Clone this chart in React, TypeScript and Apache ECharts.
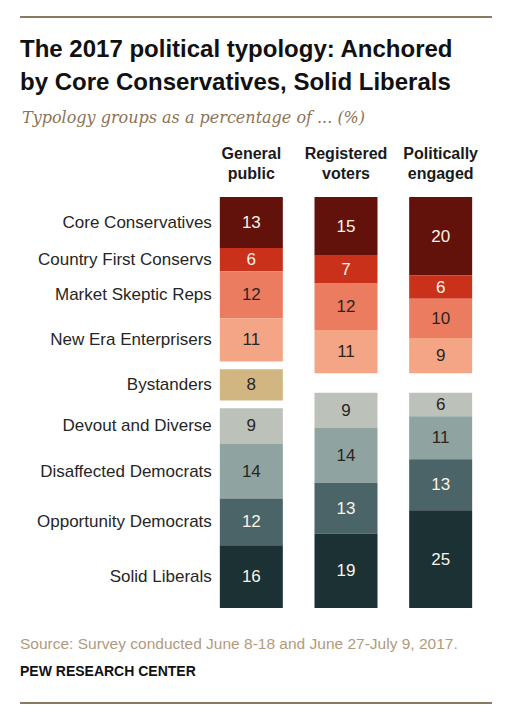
import React, { useEffect, useRef } from "react";
import * as echarts from "echarts";

// Column headers (x axis categories)
const columns = ["General\npublic", "Registered\nvoters", "Politically\nengaged"];

// Typology groups, top to bottom
const groups = [
  "Core Conservatives",
  "Country First Conservs",
  "Market Skeptic Reps",
  "New Era Enterprisers",
  "Bystanders",
  "Devout and Diverse",
  "Disaffected Democrats",
  "Opportunity Democrats",
  "Solid Liberals",
];

// Share of each population (%), per column
const coreConservatives = [13, 15, 20];
const countryFirstConservs = [6, 7, 6];
const marketSkepticReps = [12, 12, 10];
const newEraEnterprisers = [11, 11, 9];
const bystanders = [8, null, null];
const devoutAndDiverse = [9, 9, 6];
const disaffectedDemocrats = [14, 14, 11];
const opportunityDemocrats = [12, 13, 13];
const solidLiberals = [16, 19, 25];

const FONT = "'Liberation Sans', Arial, sans-serif";
const BAR_WIDTH = 63;
const BAND_GAP = 2; // space (in %-units) around the Bystanders block

type Seg = { name: string; data: (number | null)[]; color: string; text: string };

const repSegs: Seg[] = [
  { name: groups[0], data: coreConservatives, color: "#62110b", text: "#fbf3e6" },
  { name: groups[1], data: countryFirstConservs, color: "#c9311b", text: "#fbf3e6" },
  { name: groups[2], data: marketSkepticReps, color: "#eb7c60", text: "#2b2522" },
  { name: groups[3], data: newEraEnterprisers, color: "#f4a586", text: "#2b2522" },
];
const bySeg: Seg = { name: groups[4], data: bystanders, color: "#d2b682", text: "#2b2522" };
const demSegs: Seg[] = [
  { name: groups[5], data: devoutAndDiverse, color: "#bcc1b9", text: "#2b2522" },
  { name: groups[6], data: disaffectedDemocrats, color: "#8fa4a1", text: "#2b2522" },
  { name: groups[7], data: opportunityDemocrats, color: "#4b6467", text: "#fbf3e6" },
  { name: groups[8], data: solidLiberals, color: "#1c3134", text: "#fbf3e6" },
];

const sum = (segs: Seg[], i: number) => segs.reduce((s, g) => s + (g.data[i] ?? 0), 0);

export default function App() {
  const ref = useRef<HTMLDivElement>(null);

  useEffect(() => {
    if (!ref.current) return;
    const chart = echarts.init(ref.current, null, { renderer: "svg" });

    const n = columns.length;
    const fullHeight = (i: number) =>
      sum(repSegs, i) + sum(demSegs, i) + (bySeg.data[i] != null ? (bySeg.data[i] as number) + 2 * BAND_GAP : 0);
    const total = Math.max(...columns.map((_, i) => fullHeight(i)));

    // Spacers keep every column aligned at top and bottom
    const gapTop: (number | null)[] = [];
    const gapBottom: (number | null)[] = [];
    for (let i = 0; i < n; i++) {
      if (bySeg.data[i] != null) {
        gapTop.push(BAND_GAP);
        gapBottom.push(BAND_GAP);
      } else {
        gapTop.push(total - sum(repSegs, i) - sum(demSegs, i));
        gapBottom.push(null);
      }
    }

    const barSeries = (s: Seg) => ({
      type: "bar",
      name: s.name,
      stack: "total",
      barWidth: BAR_WIDTH,
      data: s.data.map((v) => (v == null ? "-" : v)),
      itemStyle: { color: s.color },
      label: {
        show: true,
        position: "inside",
        color: s.text,
        fontFamily: FONT,
        fontSize: 17,
        formatter: (p: any) => String(p.value),
      },
      silent: true,
    });
    const spacer = (name: string, data: (number | null)[]) => ({
      type: "bar",
      name,
      stack: "total",
      barWidth: BAR_WIDTH,
      data: data.map((v) => (v == null ? "-" : v)),
      itemStyle: { color: "rgba(0,0,0,0)" },
      label: { show: false },
      silent: true,
    });

    const ordered: { seg?: Seg; gap?: (number | null)[] }[] = [
      ...repSegs.map((seg) => ({ seg })),
      { gap: gapTop },
      { seg: bySeg },
      { gap: gapBottom },
      ...demSegs.map((seg) => ({ seg })),
    ];

    // Row labels sit at the middle of each segment in the first column
    const labelData: [number, number, string][] = [];
    let acc = 0;
    ordered.forEach((o) => {
      const v = o.seg ? o.seg.data[0] : o.gap![0];
      const val = v ?? 0;
      if (o.seg) labelData.push([0, acc + val / 2, o.seg.name]);
      acc += val;
    });

    const series: any[] = ordered.map((o, k) => (o.seg ? barSeries(o.seg) : spacer("gap" + k, o.gap!)));
    series.push({
      type: "custom",
      coordinateSystem: "cartesian2d",
      silent: true,
      z: 10,
      encode: { x: 0, y: 1 },
      data: labelData,
      renderItem: (params: any, api: any) => {
        const pt = api.coord([0, api.value(1)]);
        return {
          type: "text",
          x: pt[0] - BAR_WIDTH / 2 - 8,
          y: pt[1],
          style: {
            text: labelData[params.dataIndex][2],
            textAlign: "right",
            textVerticalAlign: "middle",
            font: `17px ${FONT}`,
            fill: "#262626",
          },
        };
      },
    });

    chart.setOption({
      animation: false,
      grid: { left: 204, right: 32, top: 197, bottom: 118 },
      xAxis: {
        type: "category",
        position: "top",
        data: columns,
        axisLine: { show: false },
        axisTick: { show: false },
        axisLabel: {
          interval: 0,
          hideOverlap: false,
          margin: 14,
          fontFamily: FONT,
          fontWeight: "bold",
          fontSize: 16,
          lineHeight: 20,
          color: "#1a1a1a",
        },
      },
      yAxis: {
        type: "value",
        inverse: true,
        min: 0,
        max: total,
        show: false,
      },
      series,
      graphic: [
        { type: "line", shape: { x1: 20, y1: 17, x2: 492, y2: 17 }, style: { stroke: "#8a7a62", lineWidth: 2 } },
        {
          type: "text",
          x: 20,
          y: 48,
          style: {
            text: "The 2017 political typology: Anchored",
            font: `bold 24px ${FONT}`,
            fill: "#111111",
            textVerticalAlign: "middle",
          },
        },
        {
          type: "text",
          x: 20,
          y: 81,
          style: {
            text: "by Core Conservatives, Solid Liberals",
            font: `bold 24px ${FONT}`,
            fill: "#111111",
            textVerticalAlign: "middle",
          },
        },
        {
          type: "text",
          x: 22,
          y: 117,
          style: {
            text: "Typology groups as a percentage of ... (%)",
            font: `italic 16px 'DejaVu Serif', Georgia, serif`,
            fill: "#8c7356",
            textVerticalAlign: "middle",
          },
        },
        {
          type: "text",
          x: 20,
          y: 643,
          style: {
            text: "Source: Survey conducted June 8-18 and June 27-July 9, 2017.",
            font: `15.5px ${FONT}`,
            fill: "#b29a7c",
            textVerticalAlign: "middle",
          },
        },
        {
          type: "text",
          x: 20,
          y: 671,
          style: {
            text: "PEW RESEARCH CENTER",
            font: `bold 14px ${FONT}`,
            fill: "#111111",
            textVerticalAlign: "middle",
          },
        },
        { type: "line", shape: { x1: 20, y1: 703, x2: 492, y2: 703 }, style: { stroke: "#8a7a62", lineWidth: 2 } },
      ],
    });

    return () => chart.dispose();
  }, []);

  return (
    <div
      ref={ref}
      style={{ position: "fixed", left: 0, top: 0, width: 520, height: 726, background: "#ffffff" }}
    />
  );
}
